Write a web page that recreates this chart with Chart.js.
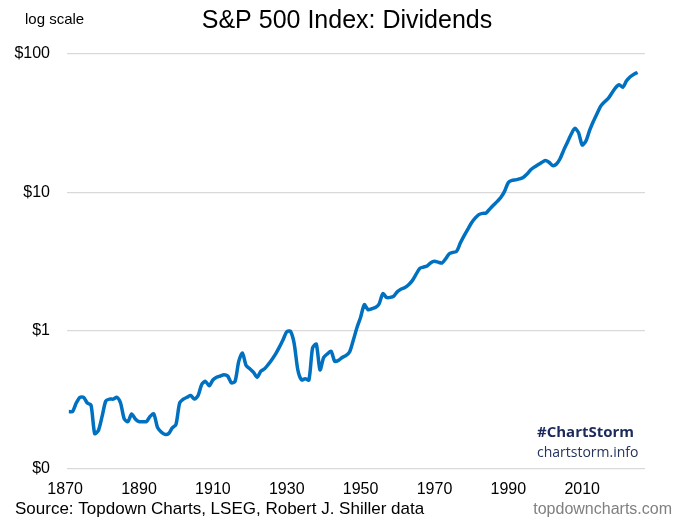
<!DOCTYPE html>
<html>
<head>
<meta charset="utf-8">
<script src="https://cdn.jsdelivr.net/npm/chart.js@4.4.1/dist/chart.umd.min.js"></script>
<style>
  html, body { margin: 0; padding: 0; background: #fff; }
  #wrap { width: 680px; height: 525px; }
</style>
</head>
<body>
<div id="wrap"><canvas id="grafico" width="680" height="525"></canvas></div>
<script>
// dados (dividendos anuais do S&P 500, US$)
const anos = [];
for (let a = 1871; a <= 2025; a++) anos.push(a);

const dividendos = [
  0.26, 0.26, 0.30, 0.33, 0.33, 0.30, 0.29, 0.18, 0.19, 0.24,   // 1871-1880
  0.31, 0.32, 0.32, 0.33, 0.30, 0.23, 0.22, 0.25, 0.23, 0.22,   // 1881-1890
  0.22, 0.22, 0.24, 0.25, 0.20, 0.185, 0.178, 0.18, 0.198, 0.21, // 1891-1900
  0.30, 0.32, 0.33, 0.34, 0.32, 0.34, 0.41, 0.43, 0.40, 0.44,   // 1901-1910
  0.46, 0.47, 0.48, 0.47, 0.42, 0.43, 0.60, 0.69, 0.56, 0.53,   // 1911-1920
  0.50, 0.46, 0.51, 0.53, 0.57, 0.62, 0.68, 0.76, 0.86, 0.98,   // 1921-1930
  0.99, 0.81, 0.52, 0.44, 0.45, 0.44, 0.75, 0.80, 0.52, 0.64,   // 1931-1940
  0.68, 0.71, 0.60, 0.61, 0.64, 0.66, 0.70, 0.85, 1.05, 1.25,   // 1941-1950
  1.54, 1.42, 1.44, 1.47, 1.56, 1.85, 1.74, 1.74, 1.78, 1.92,   // 1951-1960
  2.00, 2.05, 2.15, 2.30, 2.55, 2.82, 2.88, 2.94, 3.10, 3.18,   // 1961-1970
  3.13, 3.08, 3.30, 3.60, 3.68, 3.75, 4.30, 4.85, 5.40, 6.00,   // 1971-1980
  6.50, 6.90, 7.05, 7.10, 7.60, 8.10, 8.60, 9.20, 10.2, 11.8,   // 1981-1990
  12.2, 12.3, 12.5, 12.8, 13.5, 14.5, 15.2, 15.8, 16.4, 17.0,   // 1991-2000
  16.5, 15.6, 16.0, 17.5, 20.2, 23.0, 26.3, 29.0, 27.0, 22.0,   // 2001-2010
  23.5, 28.0, 32.5, 37.0, 42.0, 45.0, 47.5, 52.0, 57.0, 60.0,   // 2011-2020
  57.5, 64.0, 68.5, 71.5, 73.5                                  // 2021-2025
];

const xTicks = [1870, 1890, 1910, 1930, 1950, 1970, 1990, 2010];
const yTicks = [0.1, 1, 10, 100];
const yTickLabels = ['$0', '$1', '$10', '$100'];

const TITULO = 'S&P 500 Index: Dividends';
const FONTE = 'Source: Topdown Charts, LSEG, Robert J. Shiller data';
const ARIAL = '"Liberation Sans", Arial, sans-serif';

const textos = {
  id: 'textos',
  afterDraw(chart) {
    const c = chart.ctx;
    c.save();
    c.textBaseline = 'alphabetic';
    c.fillStyle = '#000';

    c.textAlign = 'left';
    c.font = '15px ' + ARIAL;
    c.fillText('log scale', 25, 24);

    c.textAlign = 'center';
    c.font = '25px ' + ARIAL;
    c.fillText(TITULO, 347, 28);

    c.textAlign = 'left';
    c.font = '17px ' + ARIAL;
    c.fillText(FONTE, 15, 514);

    c.textAlign = 'right';
    c.fillStyle = '#808080';
    c.font = '16px ' + ARIAL;
    c.fillText('topdowncharts.com', 672, 514);

    // marca d'água
    c.textAlign = 'left';
    c.fillStyle = '#1b2a5b';
    c.font = 'bold 15px "Open Sans", sans-serif';
    c.fillText('#ChartStorm', 537, 437);
    c.fillStyle = '#24345f';
    c.font = '14px "Open Sans", sans-serif';
    c.fillText('chartstorm.info', 537, 457);
    c.restore();
  }
};

new Chart(document.getElementById('grafico'), {
  type: 'line',
  data: {
    datasets: [{
      data: anos.map((a, i) => ({ x: a, y: dividendos[i] })),
      borderColor: '#0070c0',
      borderWidth: 3.5,
      pointRadius: 0,
      tension: 0.25,
      fill: false
    }]
  },
  options: {
    responsive: false,
    animation: false,
    layout: { padding: { top: 54, right: 35, bottom: 0, left: 0 } },
    plugins: { legend: { display: false }, tooltip: { enabled: false }, title: { display: false } },
    scales: {
      x: {
        type: 'linear', min: 1870.5, max: 2027,
        afterBuildTicks: s => { s.ticks = xTicks.map(v => ({ value: v })); },
        afterFit: s => { s.height = 56; },
        ticks: { color: '#000', font: { family: ARIAL, size: 16 }, padding: 3, maxRotation: 0, callback: v => String(v) },
        grid: { display: false },
        border: { display: false }
      },
      y: {
        type: 'logarithmic', min: 0.1, max: 100,
        afterBuildTicks: s => { s.ticks = yTicks.map(v => ({ value: v })); },
        afterFit: s => { s.width = 67; },
        ticks: {
          color: '#000', font: { family: ARIAL, size: 16 }, padding: 17,
          callback: v => yTickLabels[yTicks.indexOf(v)] || ''
        },
        grid: { color: '#d9d9d9', lineWidth: 1.3, drawTicks: false },
        border: { display: false }
      }
    }
  },
  plugins: [textos]
});
</script>
</body>
</html>
